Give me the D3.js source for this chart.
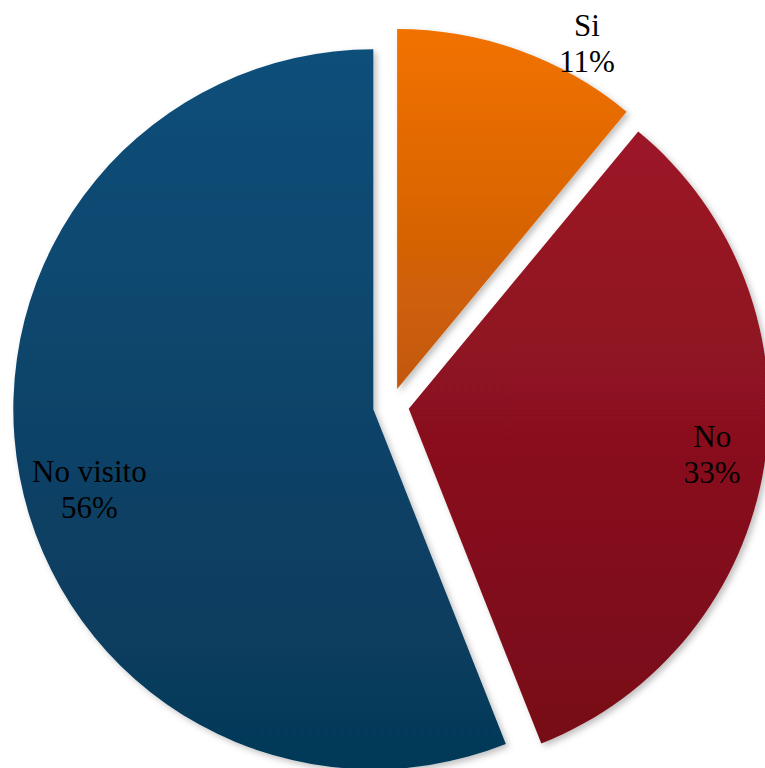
<!DOCTYPE html>
<html>
<head>
<meta charset="utf-8">
<script src="https://cdn.jsdelivr.net/npm/d3@7/dist/d3.min.js"></script>
<style>
  html, body { margin: 0; padding: 0; background: #ffffff; }
  svg { display: block; }
  text.lbl { font-family: "Liberation Serif", "Times New Roman", Times, "DejaVu Serif", serif; }
</style>
</head>
<body>
<script>
// ---- data ----
const categories = ["Si", "No", "No visito"];
const values = [11, 33, 56];
const percentLabels = ["11%", "33%", "56%"];

// ---- style ----
const topColors = ["#F27200", "#9C1526", "#0C4F7A"];
const bottomColors = ["#C2580A", "#770D18", "#063858"];
// label placement: angle (deg, clockwise from top) and distance from pie centre
const labelAngles = [28.4, 98.7, 254.5];
const labelDistances = [412, 325, 313];

const W = 765, H = 768;
const cx = 391, cy = 406, R = 360, explode = 18;

const svg = d3.select("body").append("svg")
  .attr("width", W).attr("height", H);

const defs = svg.append("defs");
const filt = defs.append("filter").attr("id", "shadow")
  .attr("x", "-10%").attr("y", "-10%").attr("width", "120%").attr("height", "120%");
filt.append("feDropShadow").attr("dx", 3).attr("dy", 3).attr("stdDeviation", 3)
  .attr("flood-color", "#000").attr("flood-opacity", 0.25);

categories.forEach((c, i) => {
  const g = defs.append("linearGradient").attr("id", "grad" + i)
    .attr("x1", 0).attr("y1", 0).attr("x2", 0).attr("y2", 1);
  g.append("stop").attr("offset", "0%").attr("stop-color", topColors[i]);
  g.append("stop").attr("offset", "100%").attr("stop-color", bottomColors[i]);
});

const pie = d3.pie().sort(null).value(d => d)(values);
const arc = d3.arc().innerRadius(0).outerRadius(R);

const root = svg.append("g").attr("transform", `translate(${cx},${cy})`);

root.selectAll("path.slice").data(pie).enter().append("path")
  .attr("class", "slice")
  .attr("d", arc)
  .attr("fill", (d, i) => `url(#grad${i})`)
  .attr("filter", "url(#shadow)")
  .attr("transform", d => {
    const a = (d.startAngle + d.endAngle) / 2;
    return `translate(${explode * Math.sin(a)},${-explode * Math.cos(a)})`;
  });

const labels = root.selectAll("text.lbl").data(pie).enter().append("text")
  .attr("class", "lbl")
  .attr("text-anchor", "middle")
  .attr("font-size", 31)
  .attr("fill", "#000")
  .attr("transform", (d, i) => {
    const a = labelAngles[i] * Math.PI / 180;
    return `translate(${labelDistances[i] * Math.sin(a)},${-labelDistances[i] * Math.cos(a)})`;
  });
labels.append("tspan").attr("x", 0).attr("y", -8).text((d, i) => categories[i]);
labels.append("tspan").attr("x", 0).attr("y", 28).text((d, i) => percentLabels[i]);
</script>
</body>
</html>
